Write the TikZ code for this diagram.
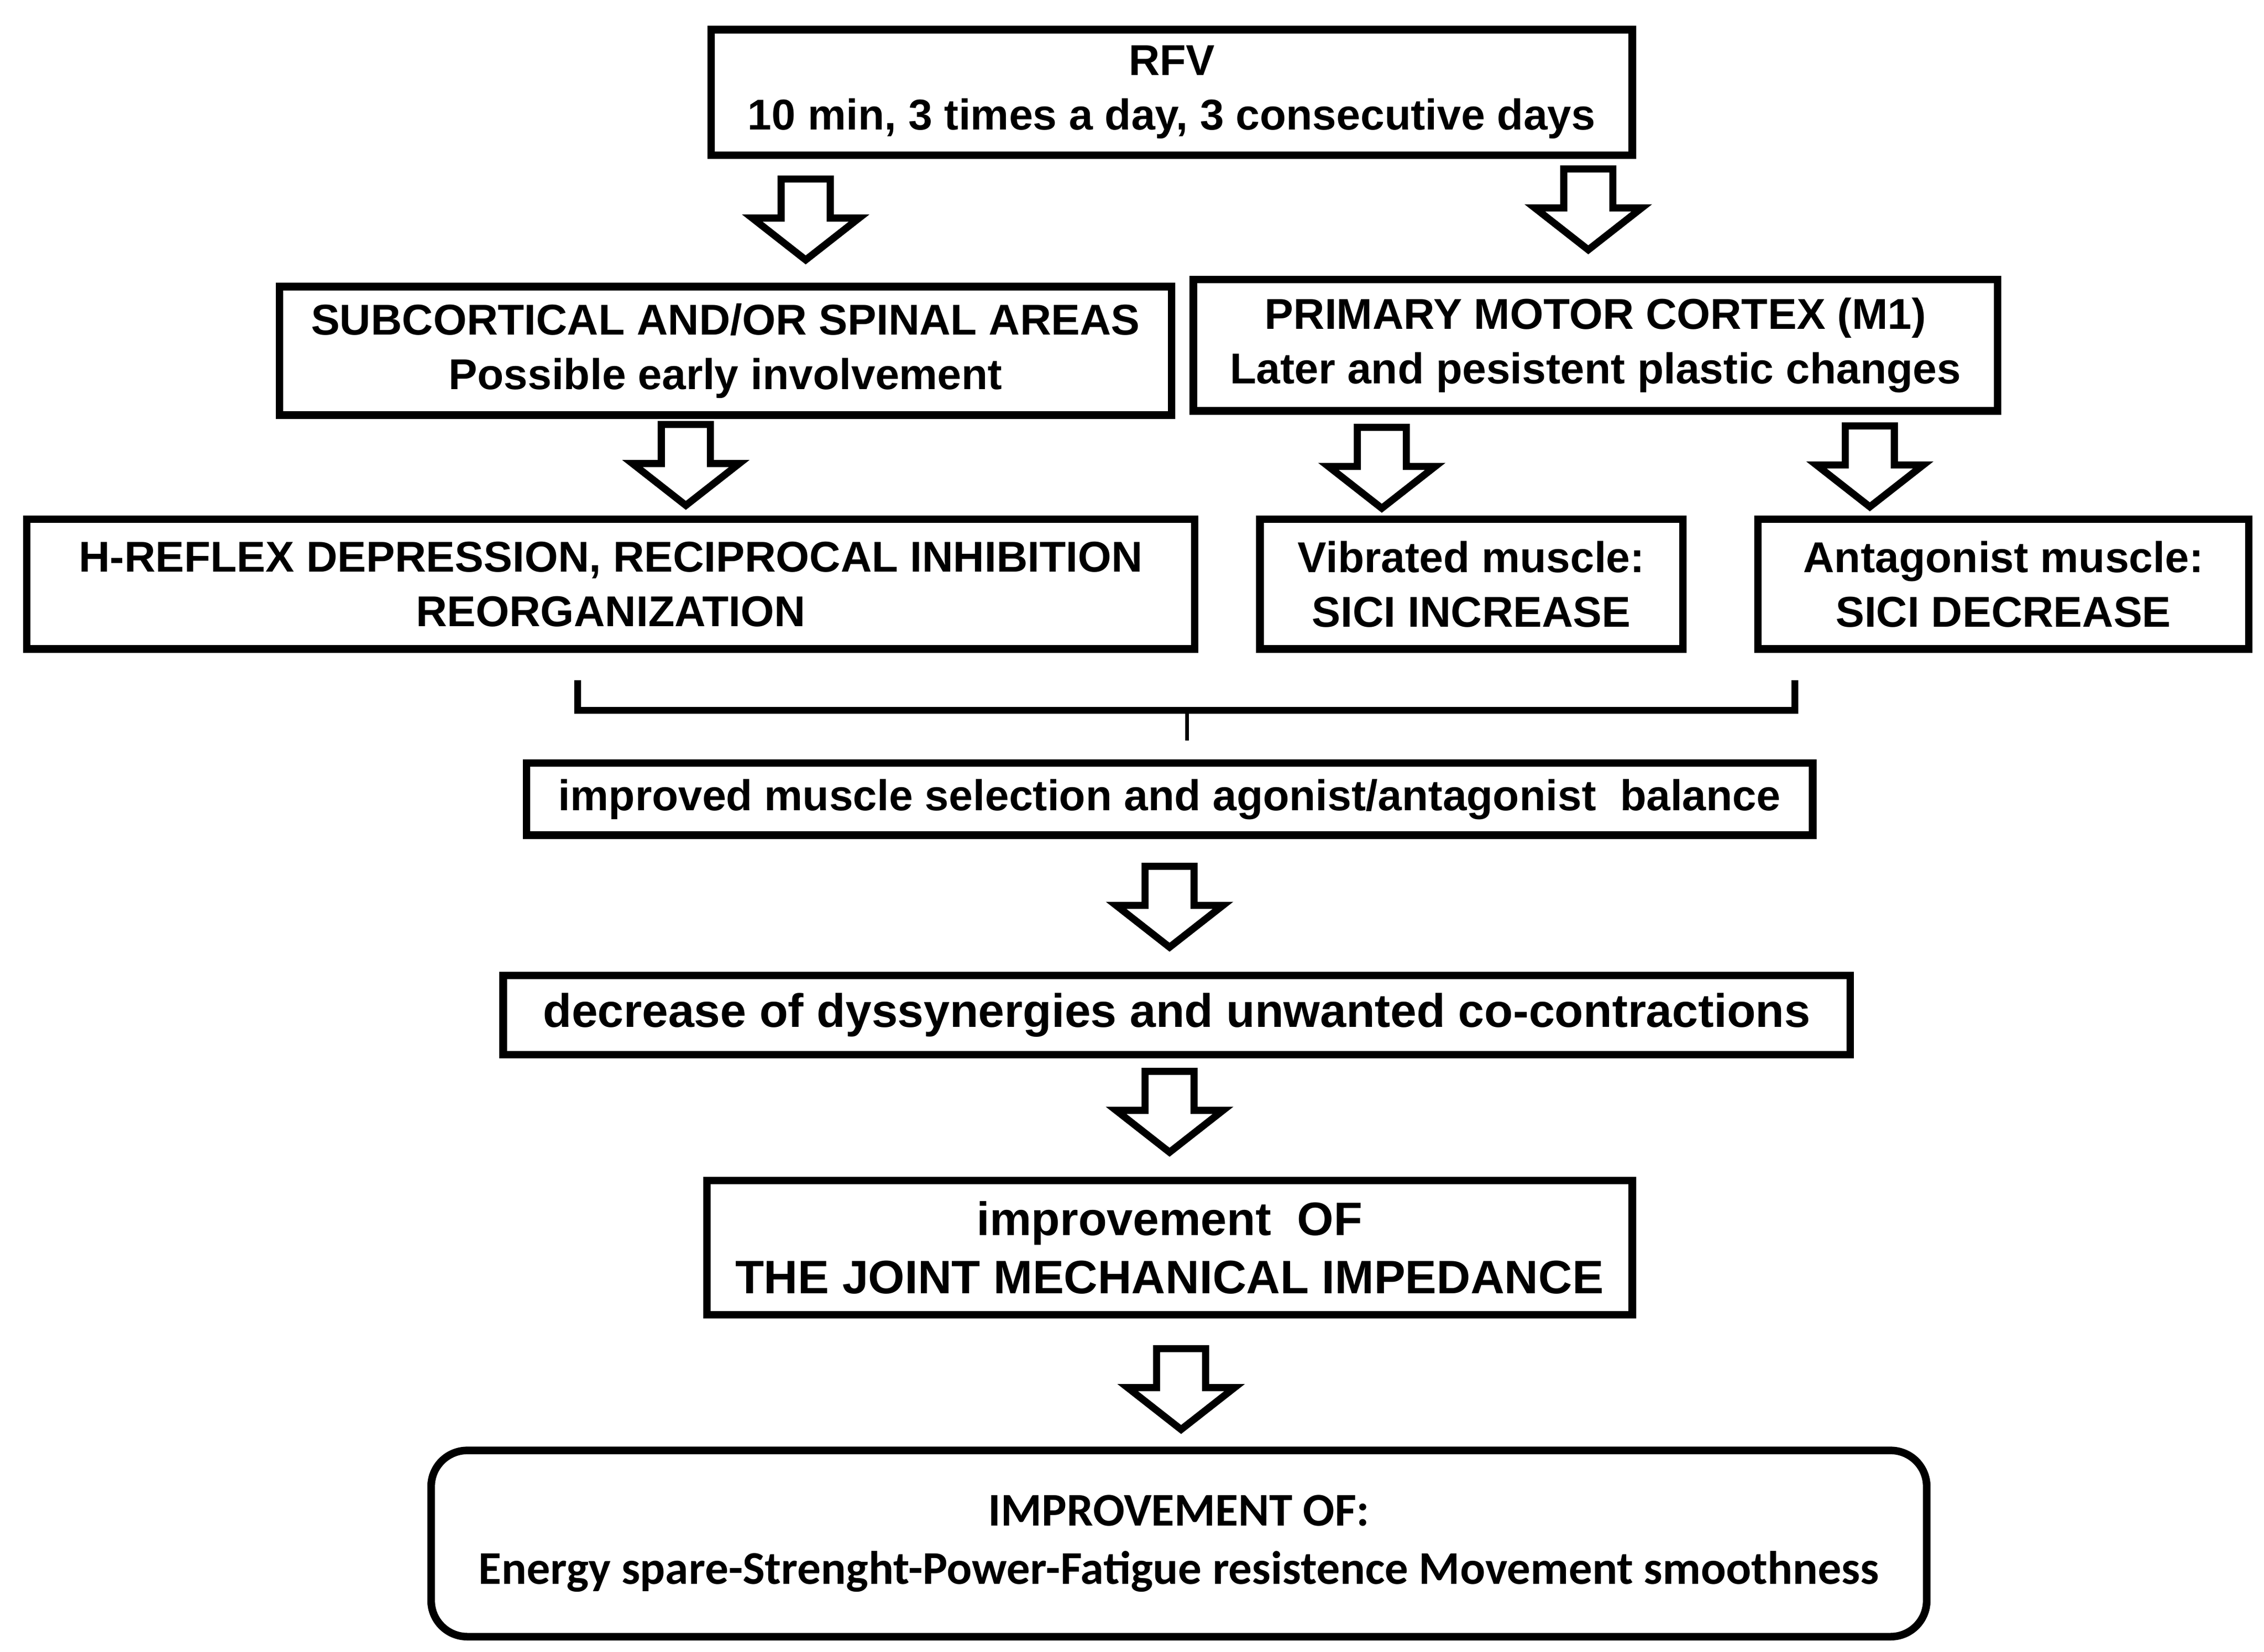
\documentclass[tikz,border=0pt]{standalone}
\usepackage{fontspec}
\setmainfont{Liberation Sans}
\newfontfamily\carlito{Carlito}
\tikzset{
  box/.style={draw, line width=3pt, align=center, inner sep=0pt,
    font=\bfseries\fontsize{17}{21.5}\selectfont},
  bigbox/.style={box, font=\bfseries\fontsize{18.5}{23}\selectfont},
  roundbox/.style={box, rounded corners=0.5cm,
    font=\carlito\bfseries\fontsize{18.5}{23}\selectfont},
  bracketline/.style={line width=2.6pt},
  blockarrow/.pic={
    \draw[line width=2.8pt, line join=miter]
      (-17,0) -- (17,0) -- (17,27) -- (37,27) -- (0,56) -- (-37,27) -- (-17,27) -- cycle;
  }
}
\begin{document}
\begin{tikzpicture}[x=0.02cm, y=-0.02cm]
  \useasboundingbox (0,0) rectangle (1568,1144);
  \node[box, minimum width=12.76cm, minimum height=1.74cm] (rfv) at (811.5,64)
    {RFV\\10 min, 3 times a day, 3 consecutive days};
  \node[box, minimum width=12.36cm, minimum height=1.78cm] (spinal) at (502.5,243)
    {SUBCORTICAL AND/OR SPINAL AREAS\\Possible early involvement};
  \node[box, minimum width=11.14cm, minimum height=1.82cm] (cortex) at (1105,239)
    {PRIMARY MOTOR CORTEX (M1)\\Later and pesistent plastic changes};
  \node[box, minimum width=16.18cm, minimum height=1.8cm] (hreflex) at (423,404.5)
    {H-REFLEX DEPRESSION, RECIPROCAL INHIBITION\\REORGANIZATION};
  \node[box, minimum width=5.86cm, minimum height=1.8cm] (vibrated) at (1019,404.5)
    {Vibrated muscle:\\SICI INCREASE};
  \node[box, minimum width=6.8cm, minimum height=1.8cm] (antagonist) at (1387.5,404.5)
    {Antagonist muscle:\\SICI DECREASE};
  \node[box, minimum width=17.82cm, minimum height=1.0cm] (balance) at (810,553.5)
    {improved muscle selection and agonist/antagonist\ \ balance};
  \node[bigbox, minimum width=18.66cm, minimum height=1.1cm] (dyssynergy) at (815,703)
    {decrease of dyssynergies and unwanted co-contractions};
  \node[bigbox, minimum width=12.82cm, minimum height=1.86cm] (impedance) at (810,864)
    {improvement\ \ OF\\THE JOINT MECHANICAL IMPEDANCE};
  \node[roundbox, minimum width=20.72cm, minimum height=2.58cm] (outcome) at (816.5,1069)
    {IMPROVEMENT OF:\\Energy spare-Strenght-Power-Fatigue resistence Movement smoothness};
  \coordinate (rfvleft) at (558,124);
  \coordinate (rfvright) at (1100,117);
  \coordinate (spinalout) at (475,294);
  \coordinate (cortexleft) at (957,296);
  \coordinate (cortexright) at (1295,295);
  \coordinate (balanceout) at (810,600);
  \coordinate (dyssynergyout) at (810,742);
  \coordinate (impedanceout) at (818,934);
  \pic at (rfvleft) {blockarrow};
  \pic at (rfvright) {blockarrow};
  \pic at (spinalout) {blockarrow};
  \pic at (cortexleft) {blockarrow};
  \pic at (cortexright) {blockarrow};
  \pic at (balanceout) {blockarrow};
  \pic at (dyssynergyout) {blockarrow};
  \pic at (impedanceout) {blockarrow};
  \coordinate (bracketleft) at (400,471);
  \coordinate (bracketright) at (1243,471);
  \coordinate (bracketmid) at (822,492);
  \coordinate (brackettip) at (822,513);
  \draw[bracketline] (bracketleft) |- (bracketright |- bracketmid) -- (bracketright);
  \draw[line width=1.4pt] (bracketmid) -- (brackettip);
\end{tikzpicture}
\end{document}
